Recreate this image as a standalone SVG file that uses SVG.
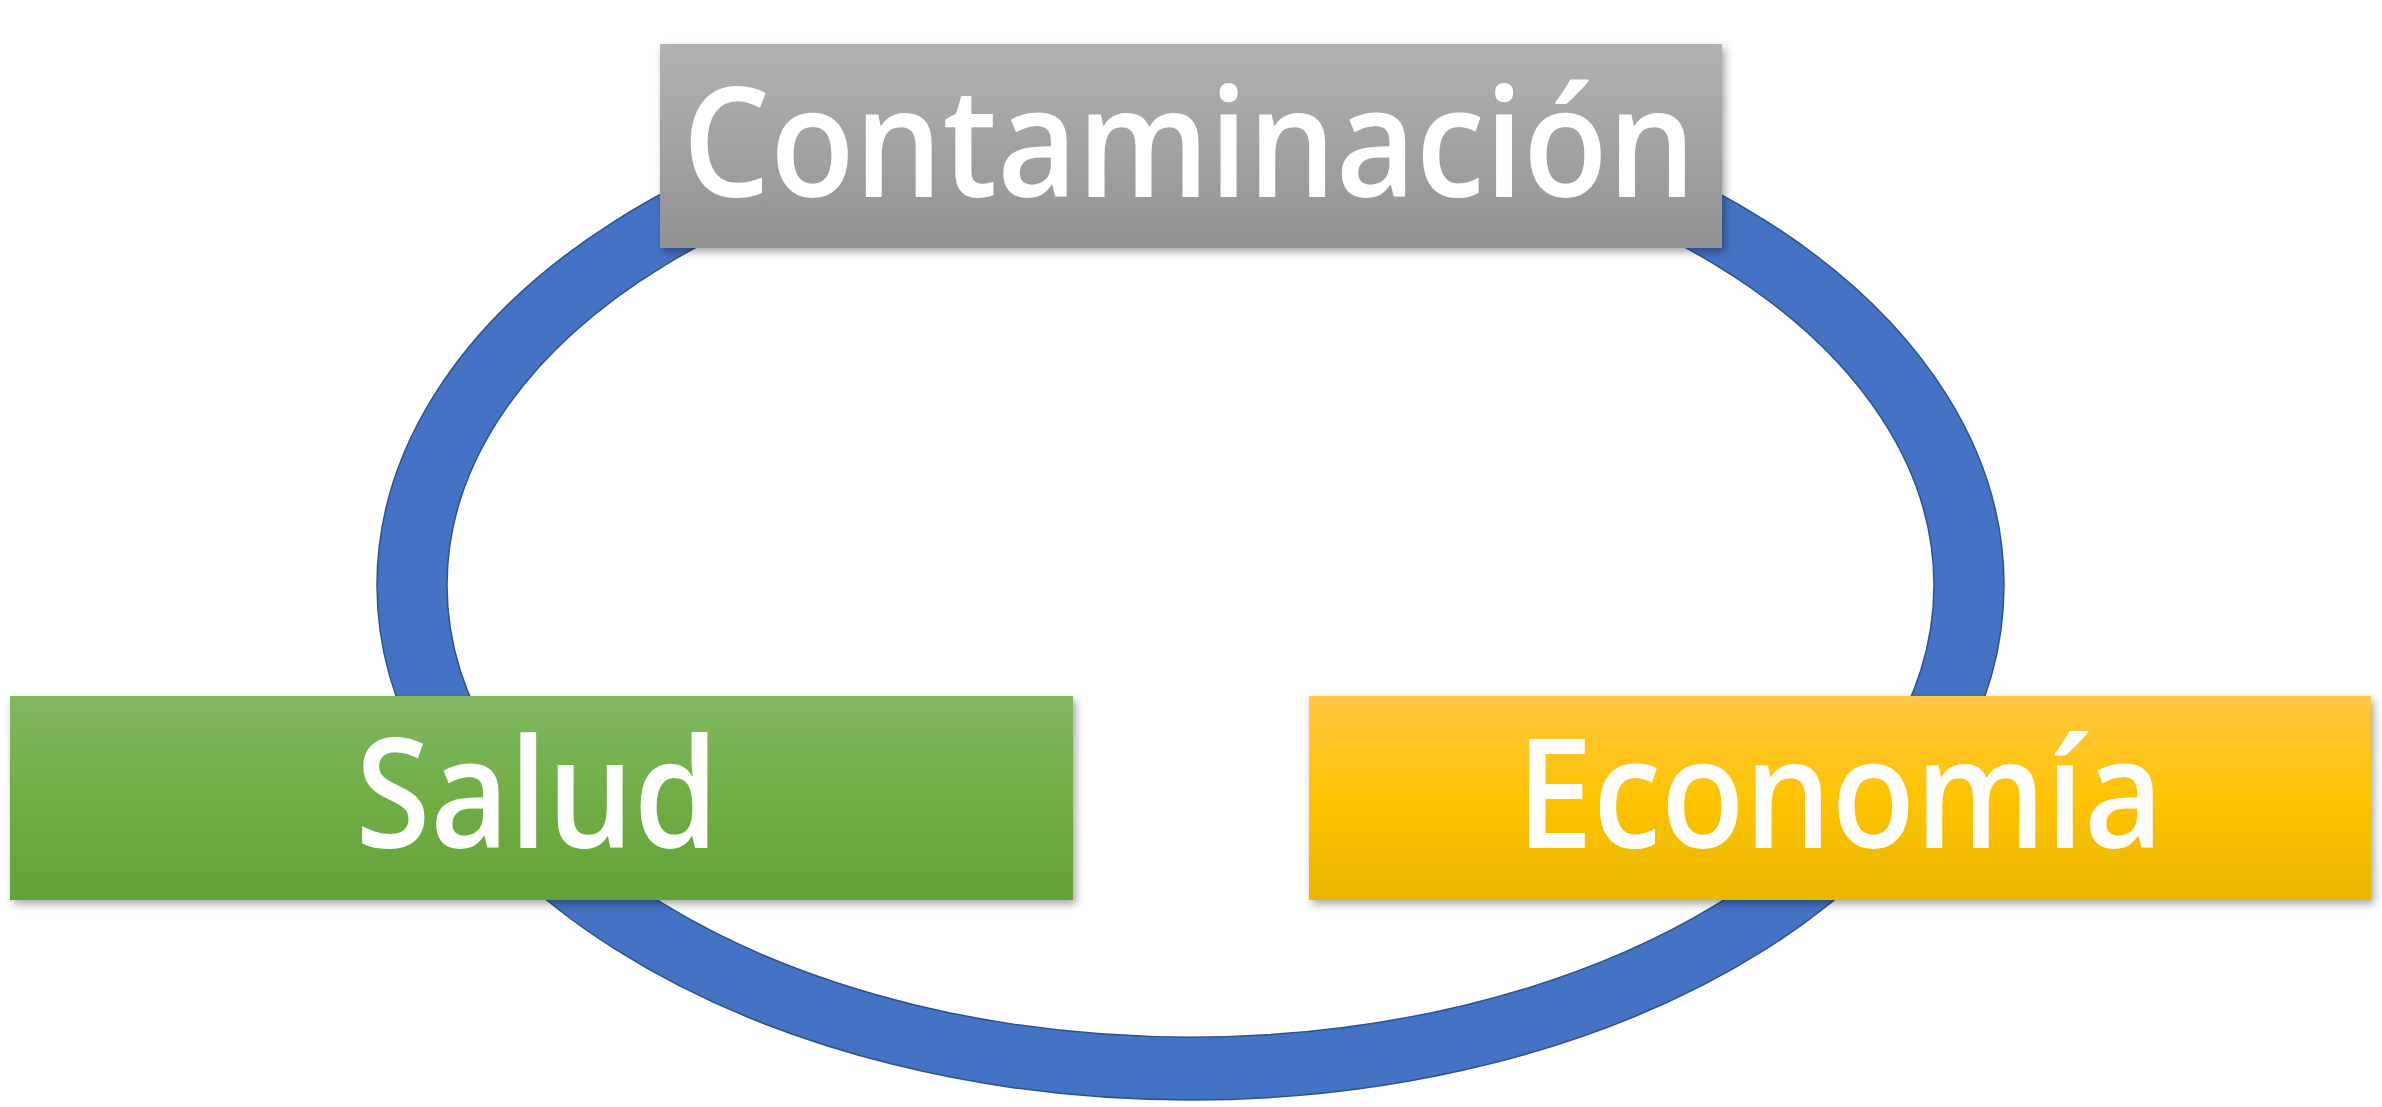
<svg xmlns="http://www.w3.org/2000/svg" width="2382" height="1107" viewBox="0 0 2382 1107">
  <style>
    .lbl { font-family: "Open Sans", "Noto Sans", "Liberation Sans", sans-serif; font-weight: 600; font-size: 152px; fill: #ffffff; text-anchor: middle; }
    .ring { fill: #4472c4; stroke: #2f528f; stroke-width: 1.5; fill-rule: evenodd; }
  </style>
  <defs>
    <linearGradient id="gGray" x1="0" y1="0" x2="0" y2="1">
      <stop offset="0" stop-color="#b1b1b1"/>
      <stop offset="0.5" stop-color="#a2a2a2"/>
      <stop offset="1" stop-color="#929292"/>
    </linearGradient>
    <linearGradient id="gGreen" x1="0" y1="0" x2="0" y2="1">
      <stop offset="0" stop-color="#81b862"/>
      <stop offset="0.5" stop-color="#70ae45"/>
      <stop offset="1" stop-color="#62a237"/>
    </linearGradient>
    <linearGradient id="gGold" x1="0" y1="0" x2="0" y2="1">
      <stop offset="0" stop-color="#ffc746"/>
      <stop offset="0.5" stop-color="#ffc300"/>
      <stop offset="1" stop-color="#e7b700"/>
    </linearGradient>
    <filter id="sh" x="-5%" y="-10%" width="110%" height="130%">
      <feDropShadow dx="3" dy="4" stdDeviation="4" flood-color="#000" flood-opacity="0.35"/>
    </filter>
  </defs>
  <rect width="2382" height="1107" fill="#ffffff"/>
  <g id="connectors">
    <path class="ring" d="M 377 585 A 813.5 515 0 1 0 2004 585 A 813.5 515 0 1 0 377 585 Z M 447 585 A 743.5 452 0 1 0 1934 585 A 743.5 452 0 1 0 447 585 Z"/>
  </g>
  <g id="contaminacion">
    <rect x="660" y="44" width="1062" height="204" fill="url(#gGray)" filter="url(#sh)"/>
    <text class="lbl" x="1189" y="197" textLength="1013" lengthAdjust="spacingAndGlyphs">Contaminación</text>
  </g>
  <g id="salud">
    <rect x="10" y="696" width="1063" height="204" fill="url(#gGreen)" filter="url(#sh)"/>
    <text class="lbl" x="537" y="848" textLength="363" lengthAdjust="spacingAndGlyphs">Salud</text>
  </g>
  <g id="economia">
    <rect x="1309" y="696" width="1062" height="204" fill="url(#gGold)" filter="url(#sh)"/>
    <text class="lbl" x="1840" y="848" textLength="647" lengthAdjust="spacingAndGlyphs">Economía</text>
  </g>
</svg>
